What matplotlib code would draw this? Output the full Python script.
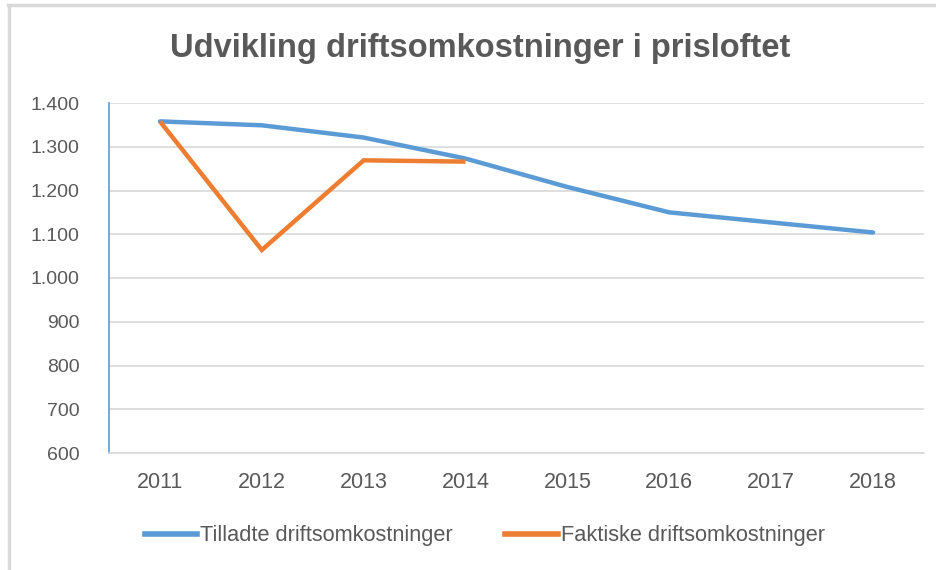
import matplotlib
matplotlib.use('Agg')
import matplotlib.pyplot as plt
from matplotlib.lines import Line2D
import numpy as np

years = ['2011', '2012', '2013', '2014', '2015', '2016', '2017', '2018']
tilladte = [1358, 1349, 1321, 1273, 1208, 1150, 1127, 1104]
faktiske = [1358, 1064, 1269, 1266]

blue = '#5b9bd5'
orange = '#ed7d31'
txt = '#595959'

plt.rcParams['font.family'] = ['Liberation Sans', 'DejaVu Sans']

fig = plt.figure(figsize=(9.36, 5.7), dpi=100)
ax = fig.add_axes([109/936, 117/570, 815/936, 350/570])

x = np.arange(len(years))
ax.plot(x, tilladte, color=blue, lw=3.2, solid_capstyle='round', solid_joinstyle='round',
        label='Tilladte driftsomkostninger')
ax.plot(x[:len(faktiske)], faktiske, color=orange, lw=3.2, solid_capstyle='butt',
        solid_joinstyle='miter', label='Faktiske driftsomkostninger')

ax.set_xlim(-0.5, len(years) - 0.5)
ax.set_ylim(600, 1400)
ax.set_yticks(np.arange(600, 1401, 100))
ax.set_yticklabels([f'{v:,}'.replace(',', '.') for v in range(600, 1401, 100)],
                   fontsize=14, color=txt)
ax.set_xticks(x)
ax.set_xticklabels(years, fontsize=15.5, color=txt)
ax.tick_params(axis='both', length=0)
ax.tick_params(axis='y', pad=21)
ax.tick_params(axis='x', pad=14)

ax.grid(axis='y', color='#d9d9d9', lw=1.2)
ax.set_axisbelow(True)
for s in ['top', 'right']:
    ax.spines[s].set_visible(False)
ax.spines['left'].set_color(blue)
ax.spines['left'].set_linewidth(1.2)
ax.spines['bottom'].set_color('#d9d9d9')
ax.spines['bottom'].set_linewidth(1.2)

fig.text(480/936, 1 - 49/570, 'Udvikling driftsomkostninger i prisloftet', ha='center', va='center',
         fontsize=23.5, fontweight='bold', color=txt)

handles = [Line2D([], [], color=blue, lw=4), Line2D([], [], color=orange, lw=4)]
fig.legend(handles, ['Tilladte driftsomkostninger', 'Faktiske driftsomkostninger'],
           loc='center left', bbox_to_anchor=(136/936, 1 - 536/570), ncol=2, frameon=False,
           fontsize=15.7, labelcolor=txt, handlelength=2.4, handletextpad=0.15,
           columnspacing=2.4, borderaxespad=0)

# chart frame
fig.add_artist(Line2D([8/936, 1], [1 - 5/570, 1 - 5/570], color='#d9d9d9', lw=2.5))
fig.add_artist(Line2D([9/936, 9/936], [0, 1 - 5/570], color='#d9d9d9', lw=2.5))

fig.savefig('out.png', dpi=100)
